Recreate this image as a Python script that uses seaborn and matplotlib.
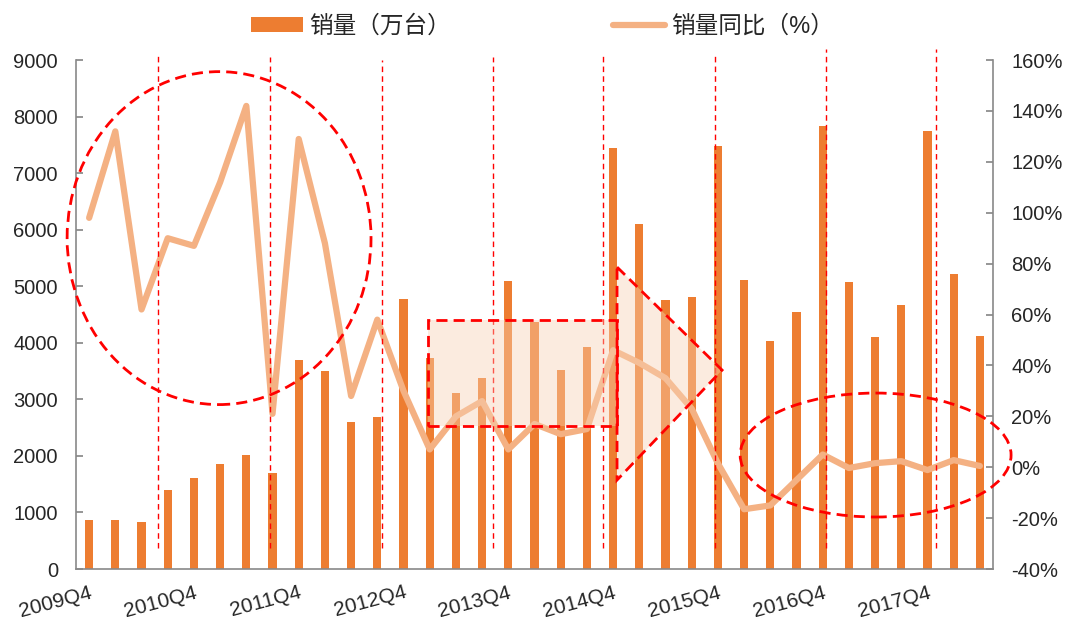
import matplotlib
matplotlib.use("Agg")
import numpy as np
import pandas as pd
import matplotlib.pyplot as plt
import seaborn as sns
from matplotlib.patches import Ellipse, Rectangle, Polygon, Patch
from matplotlib.lines import Line2D

# ── data ─────────────────────────────────────────────────────────────────
QUARTERS = [
    "2009Q4", "2010Q1", "2010Q2", "2010Q3", "2010Q4", "2011Q1", "2011Q2",
    "2011Q3", "2011Q4", "2012Q1", "2012Q2", "2012Q3", "2012Q4", "2013Q1",
    "2013Q2", "2013Q3", "2013Q4", "2014Q1", "2014Q2", "2014Q3", "2014Q4",
    "2015Q1", "2015Q2", "2015Q3", "2015Q4", "2016Q1", "2016Q2", "2016Q3",
    "2016Q4", "2017Q1", "2017Q2", "2017Q3", "2017Q4", "2018Q1", "2018Q2",
]
# sales volume, 10k units
SALES = [
    860, 865, 830, 1400, 1610, 1850, 2020, 1700, 3700, 3500, 2600, 2690,
    4780, 3740, 3120, 3380, 5100, 4375, 3520, 3925, 7440, 6110, 4755, 4805,
    7475, 5120, 4040, 4550, 7840, 5075, 4100, 4665, 7740, 5220, 4125,
]
# year-on-year growth, %
YOY = [
    98, 132, 62, 90, 87, 112, 142, 21, 129, 88, 28, 58,
    30, 7, 20, 26, 7, 17, 13, 15, 46, 41, 35, 23,
    1.5, -16.5, -15, -5, 5, -0.3, 1.6, 2.4, -1.1, 2.8, 0.5,
]
LABEL_EVERY = 4

BAR_COLOR = "#ED7D31"
LINE_COLOR = "#F4B183"
AXIS_GRAY = "#898989"

sns.set_theme(style="white")
plt.rcParams["font.family"] = ["Liberation Sans", "Noto Sans CJK SC"]

fig = plt.figure(figsize=(10.83, 6.26), dpi=100)
ax = fig.add_axes([0.0702, 0.091, 0.8467, 0.813])

df = pd.DataFrame({"quarter": QUARTERS, "sales": SALES})
sns.barplot(data=df, x="quarter", y="sales", color=BAR_COLOR, saturation=1,
            width=0.31, ax=ax, linewidth=0)

ax2 = ax.twinx()
sns.lineplot(x=np.arange(len(YOY)), y=YOY, ax=ax2, color=LINE_COLOR,
             linewidth=4.5, solid_capstyle="round", solid_joinstyle="round")

n = len(QUARTERS)
ax.set_xlim(-0.5, n - 0.5)
ax.set_ylim(0, 9000)
ax2.set_ylim(-40, 160)
ax.set_yticks(range(0, 9001, 1000))
ax2.set_yticks(range(-40, 161, 20))
ax2.set_yticklabels([f"{v}%" for v in range(-40, 161, 20)])

# x axis: tick marks on category boundaries, labels every 4 quarters
ax.set_xticks(np.arange(-0.5, n, 1), minor=True)
ax.set_xticks(range(0, n, LABEL_EVERY))
ax.set_xticklabels(QUARTERS[::LABEL_EVERY], rotation=15, ha="right",
                   rotation_mode="anchor")
ax.set_xlabel("")
ax.set_ylabel("")
ax2.set_ylabel("")

ax.tick_params(axis="x", which="major", length=0, pad=10, labelsize=15)
ax.tick_params(axis="x", which="minor", direction="in", length=5,
               color=AXIS_GRAY, width=1)
ax.tick_params(axis="y", direction="in", length=5, color=AXIS_GRAY,
               labelsize=14.5, pad=13)
ax2.tick_params(axis="y", direction="in", length=5, color=AXIS_GRAY,
                labelsize=14.5, pad=13)

for a in (ax, ax2):
    a.grid(False)
    a.spines["top"].set_visible(False)
    for s in ("left", "right", "bottom"):
        a.spines[s].set_color(AXIS_GRAY)
        a.spines[s].set_linewidth(1.2)
ax.spines["right"].set_visible(False)
ax2.spines["left"].set_visible(False)
ax2.spines["bottom"].set_visible(False)

# ── annotations (in bar-axis data coordinates) ───────────────────────────
tr = ax.transData
red = "#FF0000"

vlines = [2.63, 6.9, 11.18, 15.42, 19.61, 23.89, 28.13, 32.32]
vtops = [9100, 9050, 9000, 9050, 9100, 9100, 9200, 9200]
for xv, top in zip(vlines, vtops):
    ax2.add_line(Line2D([xv, xv], [380, top], transform=tr, color=red,
                        linewidth=1.0, linestyle=(0, (4, 3)), clip_on=False,
                        zorder=3))

fill_kw = dict(facecolor="#F7D1B3", alpha=0.42, edgecolor="none", zorder=4)
ax2.add_patch(Rectangle((12.93, 2528), 20.15 - 12.93, 4402 - 2528,
                        transform=tr, **fill_kw))
ax2.add_patch(Polygon([(20.15, 5340), (24.16, 3518), (20.15, 1574)],
                      closed=True, transform=tr, **fill_kw))

dash_kw = dict(facecolor="none", edgecolor=red, linewidth=2.0,
               linestyle=(0, (4, 2.2)), zorder=5, clip_on=False)
ax2.add_patch(Rectangle((12.93, 2528), 20.15 - 12.93, 4402 - 2528,
                        transform=tr, **dash_kw))
ax2.add_patch(Polygon([(20.15, 5340), (24.16, 3518), (20.15, 1574)],
                      closed=True, transform=tr, **dash_kw))
ax2.add_patch(Ellipse((4.96, 5852), 11.6, 5888, transform=tr, **dash_kw))
ax2.add_patch(Ellipse((30.02, 2016), 10.34, 2192, transform=tr, **dash_kw))

# ── legend ───────────────────────────────────────────────────────────────
handles = [Patch(facecolor=BAR_COLOR, edgecolor="none"),
           Line2D([], [], color=LINE_COLOR, linewidth=4.5,
                  solid_capstyle="round")]
fig.legend(handles, ["销量（万台）", "销量同比（%）"], loc="center",
           bbox_to_anchor=(0.501, 0.958), ncol=2, frameon=False, fontsize=17,
           handlelength=2.2, handleheight=0.6, handletextpad=0.25,
           columnspacing=6.9)

fig.savefig("out.png", dpi=100)
